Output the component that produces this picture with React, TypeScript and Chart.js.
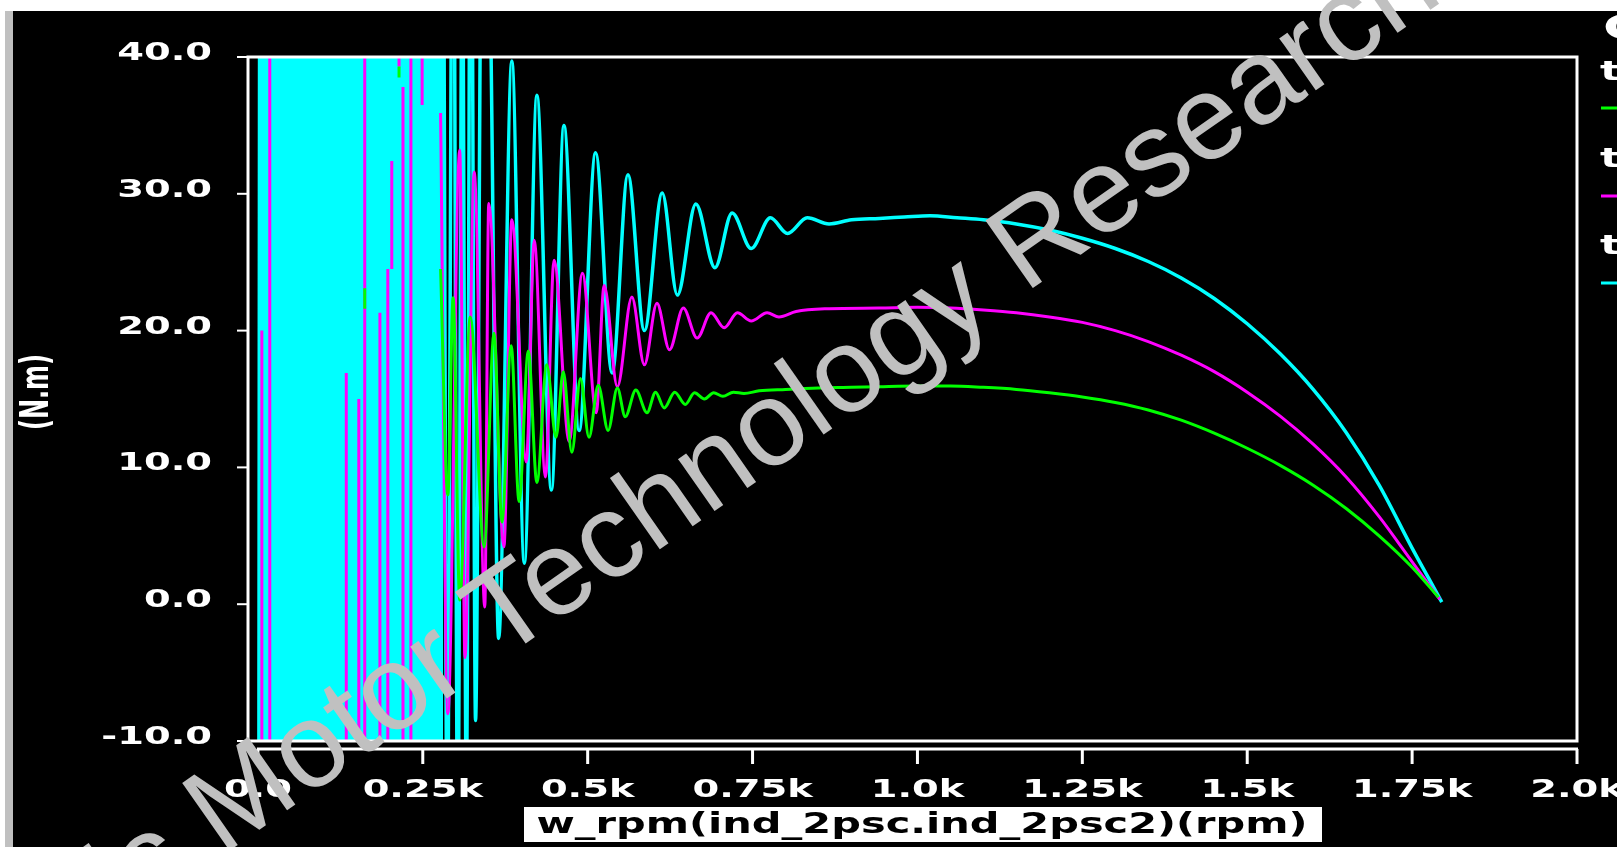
import React, { useEffect, useRef } from 'react';
import { Chart, registerables } from 'chart.js';

Chart.register(...registerables);

// ---------- axis ticks / texts ----------
const xTickValues = [0, 250, 500, 750, 1000, 1250, 1500, 1750, 2000];
const xTickLabels = ['0.0', '0.25k', '0.5k', '0.75k', '1.0k', '1.25k', '1.5k', '1.75k', '2.0k'];
const yTickValues = [40, 30, 20, 10, 0, -10];
const yTickLabels = ['40.0', '30.0', '20.0', '10.0', '0.0', '-10.0'];
const xAxisTitle = 'w_rpm(ind_2psc.ind_2psc2)(rpm)';
const yAxisTitle = '(N.m)';
const legendTitle = 'Curve Info';
const seriesNames = ['tm(ind_2psc.ind_2psc2) C=20uF', 'tm(ind_2psc.ind_2psc2) C=30uF', 'tm(ind_2psc.ind_2psc2) C=40uF'];
const seriesColors = ['#00ff00', '#ff00ff', '#00ffff'];
const watermarkText = 'Electric Motor Technology Research';

// ---------- series (speed rpm, torque N.m; null = gap) ----------
const greenRpm = [
  162, 162, 162, 214, 214, 214,
  277, 288, 296, 306, 322, 343, 358, 370, 384, 396,
  410, 423, 438, 452, 463, 476, 489, 502, 516, 531,
  545, 557, 573, 590, 603, 616, 632, 648, 662, 677,
  691, 705, 721, 737, 760, 800, 850, 900, 942, 1000,
  1050, 1100, 1150, 1200, 1250, 1300, 1350, 1400, 1450, 1500,
  1550, 1600, 1650, 1700, 1750, 1790,
];
const greenTorque = [
  23.1, 21.6, null, 39.3, 38.5, null,
  24.5, 8, 22.4, 0.3, 21, 4.2, 19.8, 6, 18.9, 7.5,
  18.5, 8.9, 17.5, 12.2, 17.0, 11.1, 16.5, 12.2, 16.0, 12.7,
  15.8, 13.7, 15.65, 14.0, 15.5, 14.35, 15.5, 14.6, 15.45, 15.0,
  15.45, 15.2, 15.5, 15.4, 15.6, 15.7, 15.8, 15.85, 15.9, 15.95,
  15.95, 15.85, 15.7, 15.45, 15.15, 14.75, 14.2, 13.45, 12.5, 11.4,
  10.15, 8.7, 7.0, 5.0, 2.7, 0.5,
];

const magentaRpm = [
  6, 6, 6, 18, 18, 18, 134, 134, 134, 153, 153, 153,
  162, 162, 162, 185, 185, 185, 197, 197, 197, 203, 203, 203,
  214, 214, 214, 220, 220, 220, 232, 232, 232, 249, 249, 249,
  277, 288, 306, 314, 328, 344, 350, 373, 385, 407,
  419, 436, 449, 472, 492, 513, 525, 545, 567, 586,
  605, 624, 645, 666, 687, 707, 727, 748, 772, 790,
  816, 866, 942, 1000, 1050, 1100, 1150, 1200, 1250, 1300,
  1350, 1400, 1450, 1500, 1550, 1600, 1650, 1700, 1750, 1792,
];
const magentaTorque = [
  20, -15, null, 62, -18, null, 16.9, -15, null, 15, -15, null,
  62, -18, null, 21.3, -15, null, 24.5, -15, null, 32.4, 24.5, null,
  62, 39.3, null, 37.8, -15, null, 62, -18, null, 62, 36.5, null,
  35.9, -8, 33.2, -3.9, 31.6, -0.2, 29.3, 4.2, 28.1, 10.4,
  26.6, 9.3, 25.15, 11.9, 24.2, 14.0, 23.3, 15.9, 22.45, 17.5,
  22.0, 18.6, 21.65, 19.45, 21.3, 20.2, 21.3, 20.7, 21.3, 21.0,
  21.4, 21.6, 21.65, 21.7, 21.65, 21.5, 21.3, 21.0, 20.6, 20.0,
  19.2, 18.2, 17.0, 15.5, 13.75, 11.7, 9.3, 6.4, 3.1, 0.35,
];

const cyanRpm = [
  1, 4, 7, 10, 13, 16, 19, 22, 25, 28,
  31, 34, 37, 40, 43, 46, 49, 52, 55, 58,
  61, 64, 67, 70, 73, 76, 79, 82, 85, 88,
  91, 94, 97, 100, 103, 106, 109, 112, 115, 118,
  121, 124, 127, 130, 133, 136, 139, 142, 145, 148,
  151, 154, 157, 160, 163, 166, 169, 172, 175, 178,
  181, 184, 187, 190, 193, 196, 199, 202, 205, 208,
  211, 214, 217, 220, 223, 226, 229, 232, 235, 238,
  241, 244, 247, 250, 253, 256, 259, 262, 265, 268,
  271, 274, 277,
  280, 287, 296, 303, 310, 316, 323, 330, 340, 352,
  365, 385, 404, 423, 445, 464, 487, 512, 537, 561,
  586, 613, 636, 664, 693, 719, 748, 777, 803, 833,
  866, 900, 942, 980, 1019, 1060, 1100, 1150, 1200, 1250,
  1300, 1350, 1400, 1450, 1500, 1550, 1600, 1650, 1700, 1750,
  1775, 1795,
];
const cyanTorque = [
  -35, 85, -37, 83, -33, 87, -35, 85, -36, 84,
  -34, 86, -35, 83, -37, 85, -33, 84, -35, 87,
  -36, 85, -34, 83, -35, 86, -37, 84, -33, 85,
  -35, 83, -36, 87, -34, 85, -35, 84, -37, 86,
  -33, 83, -35, 85, -36, 84, -34, 87, -35, 85,
  -37, 83, -33, 86, -35, 84, -36, 85, -34, 83,
  -35, 87, -37, 85, -33, 84, -35, 86, -36, 83,
  -34, 85, -35, 84, -37, 87, -33, 85, -35, 83,
  -36, 86, -34, 84, -35, 85, -37, 83, -33, 87,
  -35, 85, -35,
  62, -18, 62, -18, 50, -14, 62, -8.5, 55, 45,
  -2.5, 39.7, 3.0, 37.2, 8.35, 35.0, 12.7, 33.0, 16.9, 31.4,
  20.0, 30.05, 22.6, 29.25, 24.6, 28.6, 26.0, 28.25, 27.1, 28.25,
  27.8, 28.1, 28.2, 28.3, 28.4, 28.25, 28.1, 27.8, 27.35, 26.75,
  26.0, 25.05, 23.85, 22.35, 20.5, 18.3, 15.7, 12.55, 8.7, 4.1,
  1.9, 0.15,
];

const TICK_FONT = 'bold 24px "DejaVu Sans", sans-serif';

function stretchedText(
  ctx: CanvasRenderingContext2D, text: string, x: number, y: number,
  align: CanvasTextAlign, sx: number, sy: number, font: string, color: string,
) {
  ctx.save();
  ctx.translate(x, y);
  ctx.scale(sx, sy);
  ctx.font = font;
  ctx.fillStyle = color;
  ctx.textAlign = align;
  ctx.textBaseline = 'alphabetic';
  ctx.fillText(text, 0, 0);
  ctx.restore();
}

const decorPlugin = {
  id: 'scopeDecor',
  beforeDraw(chart: any) {
    const { ctx, width, height } = chart;
    ctx.save();
    ctx.fillStyle = '#ffffff';
    ctx.fillRect(0, 0, width, height);
    ctx.fillStyle = '#000000';
    ctx.fillRect(5, 11, width - 5, height - 11);
    ctx.fillStyle = '#c0c0c0';
    ctx.fillRect(5, 11, 8, height - 11);
    ctx.restore();
  },
  afterDraw(chart: any) {
    const { ctx, chartArea: a, scales } = chart;
    const xs = scales.x;
    const ys = scales.y;
    ctx.save();
    ctx.strokeStyle = '#ffffff';
    ctx.lineCap = 'butt';

    // plot frame
    ctx.lineWidth = 3;
    ctx.beginPath();
    ctx.moveTo(a.left, a.top);
    ctx.lineTo(a.right, a.top);
    ctx.lineTo(a.right, a.bottom);
    ctx.lineTo(a.left, a.bottom);
    ctx.closePath();
    ctx.stroke();

    // y ticks + labels
    ctx.lineWidth = 2;
    yTickValues.forEach((v, i) => {
      const py = ys.getPixelForValue(v);
      ctx.beginPath();
      ctx.moveTo(a.left - 11, py);
      ctx.lineTo(a.left, py);
      ctx.stroke();
      stretchedText(ctx, yTickLabels[i], 212, py + 3, 'right', 1.6, 1, TICK_FONT, '#ffffff');
    });

    // x axis (detached below the frame)
    const axisY = a.bottom + 8;
    const x0 = xs.getPixelForValue(xTickValues[0]);
    const x1 = xs.getPixelForValue(xTickValues[xTickValues.length - 1]);
    ctx.lineWidth = 3;
    ctx.beginPath();
    ctx.moveTo(x0 - 1, axisY);
    ctx.lineTo(x1 + 1, axisY);
    ctx.stroke();
    xTickValues.forEach((v, i) => {
      const px = xs.getPixelForValue(v);
      ctx.beginPath();
      ctx.moveTo(px, axisY);
      ctx.lineTo(px, axisY + 15);
      ctx.stroke();
      stretchedText(ctx, xTickLabels[i], px, 797, 'center', 1.6, 1, TICK_FONT, '#ffffff');
    });

    // x axis title in white box
    ctx.fillStyle = '#ffffff';
    ctx.fillRect(524, 807, 798, 35);
    const titleFont = 'bold 28px "DejaVu Sans", sans-serif';
    ctx.font = titleFont;
    const tw = ctx.measureText(xAxisTitle).width;
    stretchedText(ctx, xAxisTitle, 922, 833, 'center', 771 / tw, 1, titleFont, '#000000');

    // y axis title, rotated
    ctx.save();
    ctx.translate(48, 392);
    ctx.rotate(-Math.PI / 2);
    ctx.scale(1, 1.6);
    ctx.font = TICK_FONT;
    ctx.fillStyle = '#ffffff';
    ctx.textAlign = 'center';
    ctx.textBaseline = 'alphabetic';
    ctx.fillText(yAxisTitle, 0, 0);
    ctx.restore();

    // legend (cut by the right edge, as in the original)
    stretchedText(ctx, legendTitle, 1603, 39, 'left', 1.6, 1, 'bold 34px "DejaVu Sans", sans-serif', '#ffffff');
    const rowY = [80, 167, 254];
    const lineY = [108, 196, 283];
    seriesNames.forEach((name, i) => {
      stretchedText(ctx, name, 1600, rowY[i], 'left', 1.6, 1, 'bold 27px "DejaVu Sans", sans-serif', '#ffffff');
      ctx.strokeStyle = seriesColors[i];
      ctx.lineWidth = 3;
      ctx.beginPath();
      ctx.moveTo(1601, lineY[i]);
      ctx.lineTo(1640, lineY[i]);
      ctx.stroke();
    });

    // watermark
    ctx.save();
    ctx.translate(-128, 1101);
    ctx.rotate(-35 * Math.PI / 180);
    ctx.font = '120px "Liberation Sans", Arial, sans-serif';
    ctx.fillStyle = '#c0c0c0';
    ctx.textAlign = 'left';
    ctx.textBaseline = 'alphabetic';
    ctx.fillText(watermarkText, 0, 0);
    ctx.restore();

    ctx.restore();
  },
};

function toPoints(rpm: number[], tq: (number | null)[]) {
  return rpm.map((r, i) => ({ x: r, y: tq[i] }));
}

export default function App() {
  const ref = useRef<HTMLCanvasElement>(null);
  useEffect(() => {
    const canvas = ref.current;
    if (!canvas) return;
    const common = {
      pointRadius: 0,
      pointHoverRadius: 0,
      cubicInterpolationMode: 'monotone' as const,
      spanGaps: false,
      fill: false,
      clip: 0,
    };
    const chart = new Chart(canvas, {
      type: 'line',
      data: {
        datasets: [
          { ...common, label: seriesNames[0], data: toPoints(greenRpm, greenTorque) as any, borderColor: seriesColors[0], borderWidth: 3, order: 0 },
          { ...common, label: seriesNames[1], data: toPoints(magentaRpm, magentaTorque) as any, borderColor: seriesColors[1], borderWidth: 3, order: 1 },
          { ...common, label: seriesNames[2], data: toPoints(cyanRpm, cyanTorque) as any, borderColor: seriesColors[2], borderWidth: 3.5, order: 2 },
        ],
      },
      options: {
        responsive: false,
        maintainAspectRatio: false,
        animation: false,
        devicePixelRatio: 1,
        events: [],
        layout: { padding: { left: 248, top: 57, right: 40, bottom: 106 } },
        plugins: { legend: { display: false }, tooltip: { enabled: false } },
        scales: {
          x: { type: 'linear', min: -15, max: 2000, display: false },
          y: { type: 'linear', min: -10, max: 40, display: false },
        },
      },
      plugins: [decorPlugin],
    });
    return () => chart.destroy();
  }, []);
  return (
    <div style={{ position: 'fixed', left: 0, top: 0, width: 1617, height: 847, overflow: 'hidden' }}>
      <canvas ref={ref} width={1617} height={847} style={{ display: 'block' }} />
    </div>
  );
}
